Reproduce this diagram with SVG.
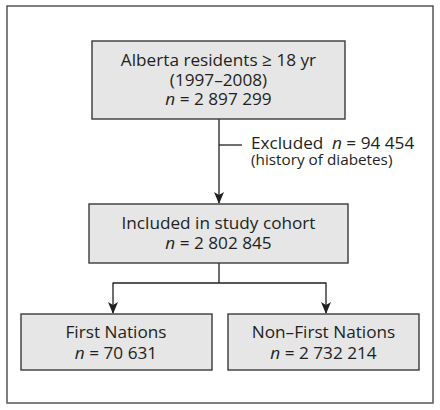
<svg xmlns="http://www.w3.org/2000/svg" width="440" height="410" viewBox="0 0 440 410">
<style>
.box{fill:#e6e6e6;stroke:#3a3a3a;stroke-width:1.4}
.frame{fill:#fff;stroke:#555;stroke-width:1.5}
text{font-family:"Open Sans","Liberation Sans",sans-serif;font-size:17.2px;fill:#231f20}
.s{font-size:15.3px}
.c{text-anchor:middle}
.i{font-style:italic}
.line{fill:none;stroke:#231f20;stroke-width:1.3}
</style>
<defs>
<marker id="ah" viewBox="0 0 12 12" refX="11" refY="6" markerWidth="12" markerHeight="12" markerUnits="userSpaceOnUse" orient="auto">
<path d="M0,1 L12,6 L0,11 L3,6 Z" fill="#231f20"/>
</marker>
</defs>
<rect class="frame" x="7" y="6" width="426" height="397"/>
<g id="connectors">
<line class="line" x1="219" y1="119" x2="219" y2="203" marker-end="url(#ah)"/>
<line class="line" x1="219" y1="145" x2="242" y2="145"/>
<path class="line" d="M219,263 V283 M113,283 H326"/>
<line class="line" x1="113" y1="282.4" x2="113" y2="313" marker-end="url(#ah)"/>
<line class="line" x1="326" y1="282.4" x2="326" y2="313" marker-end="url(#ah)"/>
</g>
<g id="top">
<rect class="box" x="92" y="41" width="253" height="78"/>
<text class="c" x="218.5" y="66">Alberta residents ≥ 18 yr</text>
<text class="c" x="218.5" y="85.5">(1997–2008)</text>
<text class="c" x="218.5" y="105"><tspan class="i">n</tspan> = 2 897 299</text>
</g>
<g id="excluded">
<text x="251" y="149.3">Excluded<tspan x="332" class="i">n</tspan> = 94 454</text>
<text class="s" x="251" y="165.3">(history of diabetes)</text>
</g>
<g id="cohort">
<rect class="box" x="89" y="204" width="259" height="59"/>
<text class="c" x="218.5" y="228.5">Included in study cohort</text>
<text class="c" x="218.5" y="248.5"><tspan class="i">n</tspan> = 2 802 845</text>
</g>
<g id="fn">
<rect class="box" x="21" y="314" width="191" height="56"/>
<text class="c" x="116" y="338">First Nations</text>
<text class="c" x="116" y="358.5"><tspan class="i">n</tspan> = 70 631</text>
</g>
<g id="nfn">
<rect class="box" x="228" y="314" width="191" height="56"/>
<text class="c" x="323.5" y="338">Non–First Nations</text>
<text class="c" x="323.5" y="358.5"><tspan class="i">n</tspan> = 2 732 214</text>
</g>
</svg>
